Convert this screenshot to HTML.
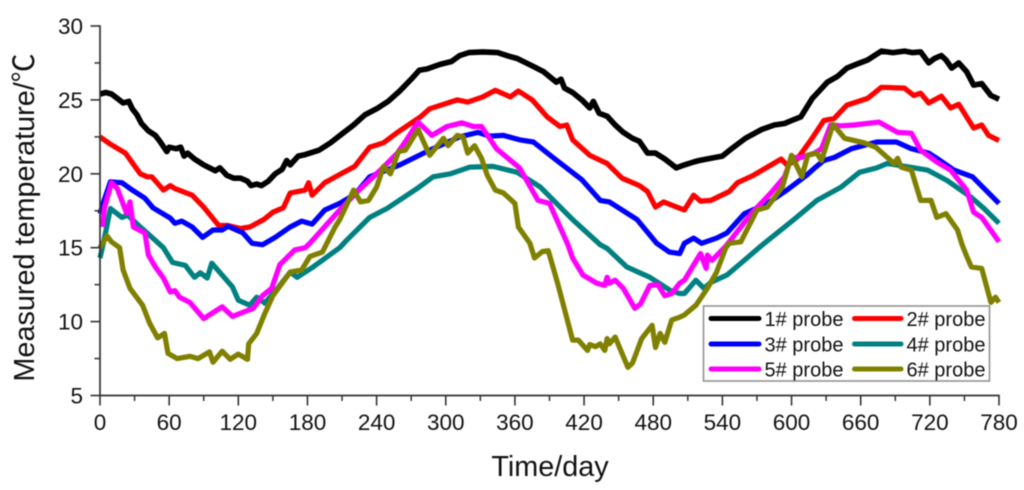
<!DOCTYPE html>
<html lang="en">
<head>
<meta charset="utf-8">
<title>Measured temperature over time</title>
<style>
html,body{margin:0;padding:0;background:#fff;width:1024px;height:490px;overflow:hidden}
svg{display:block;filter:blur(0.45px)}
text{font-family:"Liberation Sans","Noto Sans CJK SC",sans-serif;fill:#111111}
</style>
</head>
<body>
<svg id="chart" xmlns="http://www.w3.org/2000/svg" width="1024" height="490" viewBox="0 0 1024 490"></svg>
<script>
const xTickLabels = [0, 60, 120, 180, 240, 300, 360, 420, 480, 540, 600, 660, 720, 780];
const yTickLabels = [5, 10, 15, 20, 25, 30];
const xMinorTicks = [30, 90, 150, 210, 270, 330, 390, 450, 510, 570, 630, 690, 750];
const yMinorTicks = [7.5, 12.5, 17.5, 22.5, 27.5];

const probe1Days = [0,5,10,15,20,25,28,32,36,42,48,52,58,60,66,70,73,76,82,90,100,104,110,116,122,128,131,136,140,146,152,158,162,165,172,178,190,200,210,220,230,240,250,260,270,277,284,295,305,312,320,332,345,355,362,375,385,396,400,403,410,418,425,428,433,440,447,454,462,468,475,482,490,500,507,515,520,530,540,548,560,574,585,594,600,608,618,624,631,640,648,656,666,678,688,698,705,712,719,724,730,734,739,745,752,758,765,773,780];
const probe1Temps = [25.4,25.5,25.4,25.1,24.8,24.9,24.4,24.0,23.4,22.9,22.6,22.2,21.5,21.8,21.7,21.8,21.2,21.4,21.0,20.6,20.2,20.4,19.9,19.7,19.7,19.5,19.2,19.3,19.2,19.5,20.0,20.3,20.9,20.6,21.2,21.3,21.6,22.1,22.7,23.3,24.0,24.4,24.9,25.6,26.4,27.0,27.1,27.4,27.6,28.0,28.2,28.25,28.2,27.95,27.8,27.3,26.9,26.2,26.4,25.8,25.5,25.0,24.45,24.9,24.1,23.9,23.3,22.8,22.4,22.2,21.4,21.4,21.0,20.4,20.6,20.8,20.9,21.05,21.2,21.7,22.4,23.0,23.3,23.4,23.6,23.85,25.1,25.6,26.2,26.6,27.15,27.4,27.7,28.3,28.2,28.3,28.2,28.25,27.5,27.8,28.0,27.7,27.15,27.5,26.9,26.0,26.1,25.3,25.05];

const probe2Days = [0,9,22,35,41,45,55,61,65,80,90,103,111,122,130,142,150,159,165,178,181,184,195,208,221,234,246,258,278,286,310,319,332,343,356,363,375,388,399,405,410,425,440,453,468,475,482,489,502,507,515,521,530,546,553,567,591,596,604,617,628,637,648,666,678,698,706,712,719,730,738,745,758,765,771,780];
const probe2Temps = [22.5,22.0,21.4,20.0,19.8,19.8,18.9,19.2,19.0,18.55,17.75,16.5,16.5,16.3,16.4,16.9,17.4,17.7,18.7,18.9,19.4,18.55,19.4,19.95,20.5,21.8,22.1,22.8,23.85,24.4,25.0,24.85,25.2,25.65,25.2,25.6,25.0,23.85,23.2,23.3,22.3,21.25,20.7,19.7,19.2,18.8,17.75,18.1,17.7,17.55,18.55,18.15,18.2,18.8,19.4,19.9,21.0,20.6,20.9,22.3,23.6,23.75,24.65,25.1,25.85,25.8,25.3,25.45,24.8,25.25,24.45,24.7,23.1,23.3,22.6,22.25];

const probe3Days = [0,4,9,19,28,39,46,61,65,71,80,89,98,106,111,124,132,141,152,165,175,184,195,208,221,234,260,286,312,328,338,350,364,376,393,418,434,442,466,483,494,503,507,515,522,535,544,559,579,596,613,621,628,637,652,674,691,704,719,726,741,757,780];
const probe3Temps = [17.3,18.3,19.45,19.4,18.9,18.35,17.7,17.0,16.65,16.8,16.4,15.7,16.2,16.2,16.45,16.0,15.3,15.2,15.7,16.4,16.8,16.6,17.55,18.0,18.6,19.8,20.6,21.6,22.5,22.8,22.55,22.6,22.3,22.15,21.1,19.6,18.2,18.1,16.9,15.3,14.7,14.6,15.3,15.65,15.3,15.65,16.0,17.3,18.0,18.9,19.9,20.45,20.9,21.1,21.7,22.15,22.15,21.7,21.4,21.05,20.25,19.8,18.0];

const probe4Days = [0,4,9,19,24,35,48,55,63,74,82,87,93,97,115,120,130,136,143,154,165,171,185,208,214,234,249,275,289,304,321,341,362,382,410,434,440,457,477,495,503,507,517,524,530,544,559,574,602,622,643,659,674,683,718,735,756,767,780];
const probe4Temps = [14.3,15.7,17.65,17.05,17.2,16.4,15.5,15.0,14.0,13.8,13.0,13.3,12.95,13.95,12.35,11.45,11.1,11.65,11.25,12.25,13.35,13.0,13.7,15.0,15.5,17.05,17.65,19.0,19.8,20.0,20.45,20.5,20.1,19.1,16.9,15.2,14.95,13.7,13.0,12.1,11.9,11.9,12.8,12.25,12.65,13.15,14.15,15.15,16.9,18.2,19.1,20.1,20.4,20.7,20.25,19.55,18.4,17.65,16.65];

const probe5Days = [2,4,10,15,23,26,29,39,42,48,55,61,65,69,78,90,106,115,128,133,141,149,156,169,178,182,208,226,237,246,258,266,276,288,301,314,324,331,344,364,380,390,406,410,419,431,438,440,442,447,454,464,469,477,484,490,496,503,507,521,526,527,531,543,565,582,594,600,608,620,626,634,643,654,676,692,704,712,726,738,752,758,765,780];
const probe5Temps = [16.4,17.75,19.4,19.0,17.35,18.1,16.4,16.0,14.5,13.7,12.95,12.0,12.1,11.65,11.3,10.2,11.0,10.35,10.75,10.9,11.75,12.25,13.85,14.85,15.0,15.3,17.55,19.0,19.8,20.45,21.4,22.3,23.5,22.6,23.2,23.45,23.2,23.2,21.7,20.4,18.2,18.0,15.2,14.3,13.15,12.6,12.45,13.0,12.6,12.8,12.25,10.9,11.2,12.45,12.5,11.75,11.9,12.6,12.8,14.6,13.6,14.5,14.15,15.1,17.3,18.7,19.8,21.1,21.1,21.4,21.7,23.3,23.25,23.3,23.5,22.8,22.75,21.6,20.8,20.25,18.9,17.4,17.05,15.4];

const probe6Days = [0,6,10,17,20,26,37,43,50,54,56,59,67,78,85,95,98,106,113,120,128,129,136,143,150,165,175,182,193,204,208,220,226,233,240,246,252,259,265,276,286,298,302,310,315,319,325,331,336,343,350,360,363,373,377,384,389,397,410,415,423,425,430,434,438,440,442,447,458,462,470,479,482,486,490,496,503,507,517,527,535,543,546,556,570,579,592,600,609,614,622,626,636,646,663,673,689,692,695,704,712,721,726,734,744,748,751,756,765,773,777,780];
const probe6Temps = [15.0,15.8,15.4,15.0,13.5,12.25,11.1,9.9,8.9,9.1,9.2,7.85,7.5,7.65,7.5,7.95,7.25,8.0,7.45,7.8,7.45,8.5,9.2,10.55,11.75,13.35,13.5,14.4,14.7,16.4,16.9,18.9,18.1,18.2,19.1,20.5,20.0,21.5,21.6,23.0,21.25,22.4,21.9,22.6,22.5,21.4,21.9,21.05,19.9,18.9,18.7,18.0,16.4,15.3,14.3,14.75,14.8,12.6,8.75,8.75,8.05,8.45,8.3,8.5,8.05,8.85,8.5,8.95,6.9,7.2,8.85,9.75,8.25,9.2,8.6,10.1,10.3,10.45,11.1,12.25,13.35,15.0,15.3,15.4,17.55,17.75,19.1,21.25,19.8,21.25,21.4,20.9,23.35,22.4,22.1,21.8,20.7,21.05,20.45,20.25,18.2,18.2,17.05,17.3,16.2,15.2,14.6,13.7,13.6,11.3,11.65,11.3];

const seriesNames = ["1# probe","2# probe","3# probe","4# probe","5# probe","6# probe"];
const seriesColors = ["#000000","#ff0000","#0000ff","#008080","#ff00ff","#808000"];
const seriesDays = [probe1Days,probe2Days,probe3Days,probe4Days,probe5Days,probe6Days];
const seriesTemps = [probe1Temps,probe2Temps,probe3Temps,probe4Temps,probe5Temps,probe6Temps];

const NS = "http://www.w3.org/2000/svg";
const svg = document.getElementById("chart");
const plot = {left:100, right:999, top:26, bottom:395.5};
const xDomain = [0, 780];
const yDomain = [5, 30];
function xScale(v){ return plot.left + (v - xDomain[0]) / (xDomain[1] - xDomain[0]) * (plot.right - plot.left); }
function yScale(v){ return plot.bottom - (v - yDomain[0]) / (yDomain[1] - yDomain[0]) * (plot.bottom - plot.top); }
function make(tag, attrs, text){
  const el = document.createElementNS(NS, tag);
  for (const k in attrs) el.setAttribute(k, attrs[k]);
  if (text !== undefined) el.textContent = text;
  svg.appendChild(el);
  return el;
}
const axisColor = "#333333";

seriesDays.forEach(function(days, i){
  const pts = days.map(function(d, j){ return xScale(d).toFixed(1) + "," + yScale(seriesTemps[i][j]).toFixed(1); }).join(" ");
  const line = make("polyline", {points:pts, fill:"none", stroke:seriesColors[i], "stroke-width":i === 0 ? 5.6 : 5.2, "stroke-linejoin":"round", "stroke-linecap":"butt"});
  
  
});

const yAxis = make("line", {x1:plot.left, x2:plot.left, y1:plot.top - 0.8, y2:plot.bottom + 0.8, stroke:axisColor, "stroke-width":1.7});


const xAxis = make("line", {x1:plot.left - 0.8, x2:plot.right + 0.8, y1:plot.bottom, y2:plot.bottom, stroke:axisColor, "stroke-width":1.7});



xTickLabels.forEach(function(v){
  const x = xScale(v);
  const t = make("line", {x1:x, x2:x, y1:plot.bottom, y2:plot.bottom + 10, stroke:axisColor, "stroke-width":1.6});
  
  
  const l = make("text", {x:x, y:430, "text-anchor":"middle", "font-size":22.5}, String(v));
  
  
});
xMinorTicks.forEach(function(v){
  const x = xScale(v);
  const t = make("line", {x1:x, x2:x, y1:plot.bottom, y2:plot.bottom + 5.5, stroke:axisColor, "stroke-width":1.5});
  
  
});
yTickLabels.forEach(function(v){
  const y = yScale(v);
  const t = make("line", {x1:plot.left - 9.5, x2:plot.left, y1:y, y2:y, stroke:axisColor, "stroke-width":1.6});
  
  
  const l = make("text", {x:83, y:y + 8, "text-anchor":"end", "font-size":22.5}, String(v));
  
  
});
yMinorTicks.forEach(function(v){
  const y = yScale(v);
  const t = make("line", {x1:plot.left - 5.5, x2:plot.left, y1:y, y2:y, stroke:axisColor, "stroke-width":1.5});
  
  
});

const xTitle = make("text", {x:550, y:476, "text-anchor":"middle", "font-size":28.8}, "Time/day");


const yTitle = make("text", {x:0, y:0, transform:"translate(34,217.5) rotate(-90)", "text-anchor":"middle", "font-size":28.8}, "Measured temperature/\u2103");



const legendBox = make("rect", {x:703.5, y:306, width:286, height:75, fill:"#ffffff", stroke:"#8c8c8c", "stroke-width":1.5});


const legendRows = [318.5, 344, 369];
const legendCols = [{x1:711, x2:759, tx:764.5},{x1:854.5, x2:901, tx:906.5}];
seriesNames.forEach(function(name, i){
  const col = legendCols[i % 2];
  const y = legendRows[Math.floor(i / 2)];
  const sw = make("line", {x1:col.x1, x2:col.x2, y1:y, y2:y, stroke:seriesColors[i], "stroke-width":5, "stroke-linecap":"round"});
  
  
  const tx = make("text", {x:col.tx, y:y + 7.5, "font-size":20}, name);
  
  
});
</script>
</body>
</html>
